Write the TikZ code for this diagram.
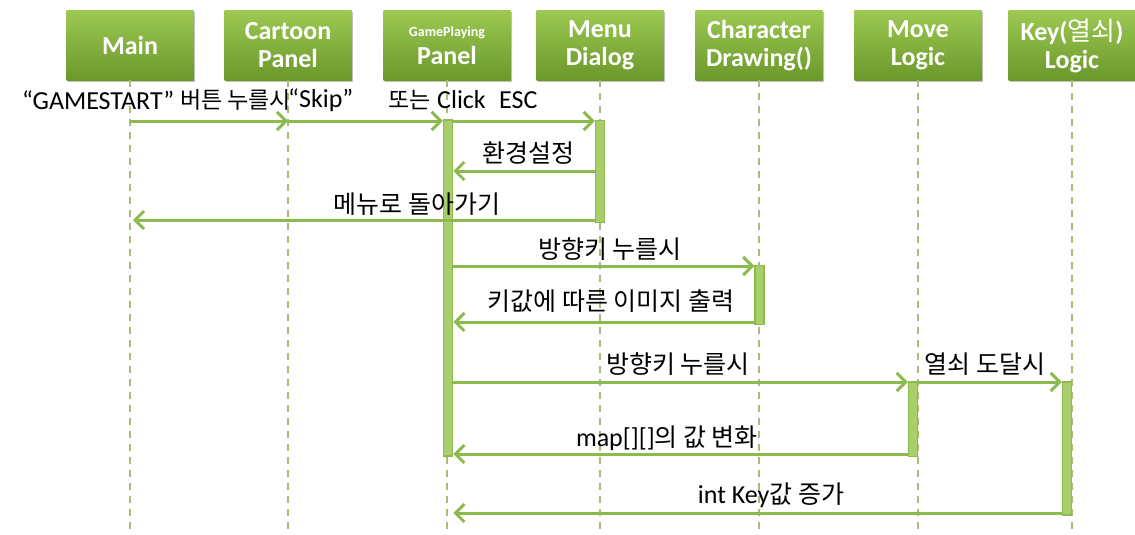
\documentclass[tikz,border=0pt]{standalone}
\usepackage{fontspec}
\setmainfont{Carlito}
\newfontfamily\cjk{Noto Sans CJK KR}
\usetikzlibrary{arrows.meta,shadows}
\definecolor{boxtop}{HTML}{9CC852}
\definecolor{boxbot}{HTML}{6A982B}
\definecolor{arr}{HTML}{8DBA4E}
\definecolor{barfill}{HTML}{A9CE6C}
\definecolor{life}{HTML}{A9BC78}
\tikzset{
  hdr/.style={rectangle, minimum width=127pt, minimum height=69pt, inner sep=0pt,
    top color=boxtop, bottom color=boxbot, text=white, align=center,
    font=\bfseries\fontsize{26}{28}\selectfont,
    drop shadow={shadow xshift=1.5pt, shadow yshift=-1.5pt, opacity=0.25, fill=black}},
  lifeline/.style={draw=life, line width=1.2pt, dash pattern=on 7pt off 6pt},
  actbar/.style={rectangle, draw=arr, fill=barfill, line width=1.5pt, minimum width=9pt, inner sep=0pt, anchor=north},
  msg/.style={draw=arr, line width=3pt, -{Straight Barb[length=9pt,width=18pt,line width=3pt]}},
  lbl/.style={inner sep=0pt, font=\fontsize{26}{28}\selectfont},
  krs/.style={inner sep=0pt, font=\cjk\fontsize{23}{26}\selectfont}
}
\newcommand{\kt}[1]{{\cjk\fontsize{25}{28}\selectfont #1}}
\begin{document}
\begin{tikzpicture}[x=1pt,y=-1pt]
\useasboundingbox[fill=white] (0,0) rectangle (1135,535);
% headers
\node[hdr] (main) at (130,45.5) {Main};
\node[hdr] (cartoon) at (288,45.5) {Cartoon\\Panel};
\node[hdr] (gp) at (447,45.5) {{\fontsize{14}{16}\selectfont GamePlaying}\\Panel};
\node[hdr] (menu) at (600,45.5) {Menu\\Dialog};
\node[hdr] (chr) at (759,45.5) {Character\\Drawing()};
\node[hdr] (move) at (918,45.5) {Move\\Logic};
\node[hdr] (key) at (1072,45.5) {Key({\cjk\mdseries 열쇠})\\Logic};
% lifeline ends
\coordinate (mainE) at (130,535);
\coordinate (cartoonE) at (288,535);
\coordinate (gpE) at (447,535);
\coordinate (menuE) at (600,535);
\coordinate (chrE) at (759,535);
\coordinate (moveE) at (918,535);
\coordinate (keyE) at (1072,535);
\draw[lifeline] (main.south) -- (mainE);
\draw[lifeline] (cartoon.south) -- (cartoonE);
\draw[lifeline] (gp.south) -- (gpE);
\draw[lifeline] (menu.south) -- (menuE);
\draw[lifeline] (chr.south) -- (chrE);
\draw[lifeline] (move.south) -- (moveE);
\draw[lifeline] (key.south) -- (keyE);
% activation bars
\node[actbar, minimum height=336pt] (gpbar) at (448,119) {};
\node[actbar, minimum height=102pt] (menubar) at (600,119.5) {};
\node[actbar, minimum height=59pt] (chrbar) at (759.5,264.5) {};
\node[actbar, minimum height=74.5pt] (movebar) at (913,381) {};
\node[actbar, minimum height=133pt] (keybar) at (1067,381) {};
% message rows
\coordinate (r1) at (0,121);
\coordinate (r2) at (0,171);
\coordinate (r3) at (0,220);
\coordinate (r4) at (0,266);
\coordinate (r5) at (0,322);
\coordinate (r6) at (0,382);
\coordinate (r7) at (0,454);
\coordinate (r8) at (0,513);
\draw[msg] (main |- r1) -- (cartoon |- r1);
\draw[msg] (cartoon |- r1) -- (gpbar.west |- r1);
\draw[msg] (gpbar.east |- r1) -- (menubar.west |- r1);
\draw[msg] (menubar.west |- r2) -- (gpbar.east |- r2);
\draw[msg] (menubar.west |- r3) -- ([xshift=3pt]main |- r3);
\draw[msg] (gpbar.east |- r4) -- (chrbar.west |- r4);
\draw[msg] (chrbar.west |- r5) -- (gpbar.east |- r5);
\draw[msg] (gpbar.east |- r6) -- (movebar.west |- r6);
\draw[msg] (movebar.east |- r6) -- (keybar.west |- r6);
\draw[msg] (movebar.west |- r7) -- (gpbar.east |- r7);
\draw[msg] (keybar.west |- r8) -- (gpbar.east |- r8);
% labels
\node[lbl, anchor=west] (l1a) at (22,100) {“GAMESTART”};
\node[krs, anchor=west] (l1b) at (180,100) {버튼 누를시};
\node[lbl, anchor=west] (l2a) at (288,100) {“Skip”};
\node[krs, anchor=west] (l2b) at (388,100) {또는};
\node[lbl, anchor=west] (l2c) at (437,100) {Click};
\node[lbl, anchor=west] (l3) at (499,100) {ESC};
\node[lbl] (l4) at (528,153) {\kt{환경설정}};
\node[lbl] (l5) at (417,204) {\kt{메뉴로 돌아가기}};
\node[lbl] (l6) at (610,249) {\kt{방향키 누를시}};
\node[lbl] (l7) at (611,301) {\kt{키값에 따른 이미지 출력}};
\node[lbl] (l8) at (678,364) {\kt{방향키 누를시}};
\node[lbl] (l9) at (985,364) {\kt{열쇠 도달시}};
\node[lbl] (l10) at (667,438) {map[][]\kt{의 값 변화}};
\node[lbl] (l11) at (771,495) {int Key\kt{값 증가}};
\end{tikzpicture}
\end{document}
